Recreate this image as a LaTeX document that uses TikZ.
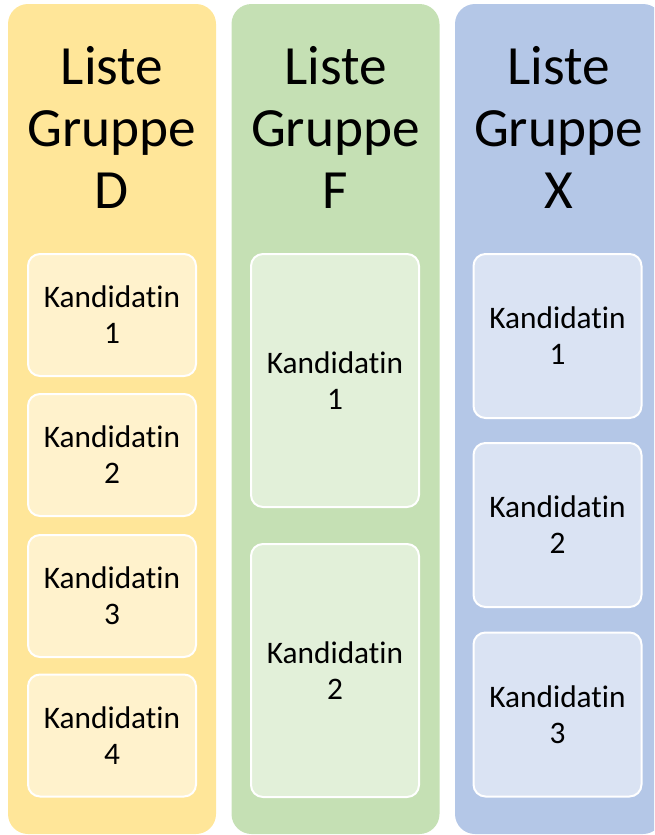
\documentclass[tikz,border=0pt]{standalone}
\usepackage{fontspec}
\setmainfont{Carlito}[Ligatures=NoCommon]
\usepackage{tikz}
\usetikzlibrary{positioning}

\definecolor{gelbcol}{HTML}{FFE699}
\definecolor{gelbbox}{HTML}{FFF2CC}
\definecolor{gruencol}{HTML}{C5E0B4}
\definecolor{gruenbox}{HTML}{E2F0D9}
\definecolor{blaucol}{HTML}{B4C7E7}
\definecolor{blaubox}{HTML}{DAE3F3}

\begin{document}
\begin{tikzpicture}[
	x=0.75pt, y=-0.75pt,
	inner sep=0pt
]
\tikzset{
    liste/.style = {rectangle, rounded corners=15pt, minimum width=156pt, minimum height=622.5pt},
    titel/.style = {align=center, font=\fontsize{41.5}{46.5}\selectfont},
    kand/.style = {rectangle, rounded corners=9pt, draw=white, line width=1.5pt, align=center,
                   minimum width=126pt, font=\fontsize{23.5}{27}\selectfont}
}
\useasboundingbox (0,0) rectangle (654,835);
\clip (0,0) rectangle (654,835);
% Spalten
\node[liste, fill=gelbcol] at (112,419) (listeD) {};
\node[liste, fill=gruencol] at (335.5,419) (listeF) {};
\node[liste, fill=blaucol] at (559,419) (listeX) {};
%
\node[titel] at (112,127) (titelD) {Liste\\Gruppe\\D};
\node[titel] at (335.5,127) (titelF) {Liste\\Gruppe\\F};
\node[titel] at (558.5,127) (titelX) {Liste\\Gruppe\\X};
% Gruppe D
\node[kand, fill=gelbbox, minimum height=91.5pt] at (112,315) (d1) {Kandidatin\\1};
\node[kand, fill=gelbbox, minimum height=91.5pt] at (112,455) (d2) {Kandidatin\\2};
\node[kand, fill=gelbbox, minimum height=91.5pt] at (112,596) (d3) {Kandidatin\\3};
\node[kand, fill=gelbbox, minimum height=91.5pt] at (112,735.5) (d4) {Kandidatin\\4};
% Gruppe F
\node[kand, fill=gruenbox, minimum height=189.75pt] at (335,380.5) (f1) {Kandidatin\\1};
\node[kand, fill=gruenbox, minimum height=189.75pt] at (335,670.5) (f2) {Kandidatin\\2};
% Gruppe X
\node[kand, fill=blaubox, minimum height=123pt] at (557.5,336) (x1) {Kandidatin\\1};
\node[kand, fill=blaubox, minimum height=123pt] at (557.5,525) (x2) {Kandidatin\\2};
\node[kand, fill=blaubox, minimum height=123pt] at (557.5,714.5) (x3) {Kandidatin\\3};
\end{tikzpicture}
\end{document}
